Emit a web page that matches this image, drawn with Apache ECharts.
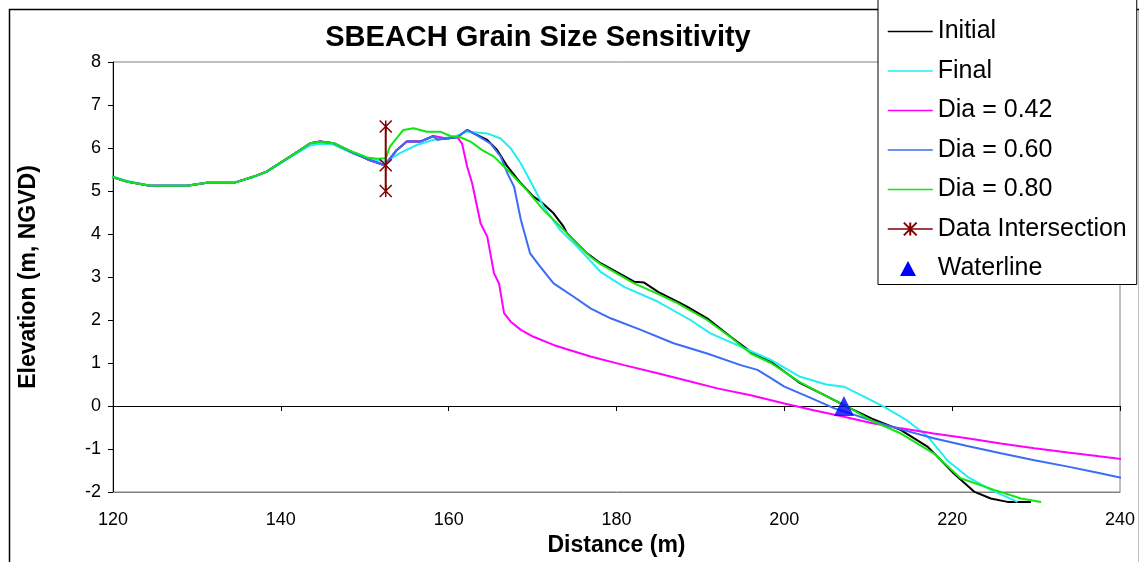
<!DOCTYPE html>
<html>
<head>
<meta charset="utf-8">
<script src="https://cdn.jsdelivr.net/npm/echarts@6/dist/echarts.min.js"></script>
<style>
  html, body { margin: 0; padding: 0; background: #fff; }
  #chart { width: 1139px; height: 562px; }
</style>
</head>
<body>
<div id="chart"></div>
<script>
// distance (m), elevation (m, NGVD)
const initial = [
  [118.9, 5.39], [121.6, 5.22], [124.4, 5.12], [128.8, 5.12], [131.2, 5.19], [134.4, 5.19],
  [136.7, 5.33], [138.3, 5.45], [141.1, 5.8], [143.5, 6.11], [144.7, 6.15], [146.3, 6.11],
  [148.7, 5.88], [150.3, 5.74], [152.4, 5.6], [153.8, 5.95], [155.0, 6.15], [156.6, 6.15],
  [158.2, 6.28], [158.6, 6.2], [159.8, 6.22], [161.0, 6.25], [162.2, 6.42], [163.0, 6.34],
  [164.6, 6.19], [165.8, 5.95], [167.0, 5.57], [168.6, 5.18], [170.1, 4.87], [171.0, 4.75],
  [172.5, 4.48], [173.7, 4.17], [174.1, 4.02], [175.3, 3.78], [176.5, 3.55], [178.1, 3.32],
  [180.0, 3.12], [182.1, 2.89], [183.3, 2.87], [185.0, 2.65], [187.2, 2.43], [188.4, 2.31],
  [190.8, 2.04], [193.6, 1.61], [196.0, 1.26], [198.4, 1.03], [201.9, 0.53], [204.5, 0.28],
  [207.8, -0.05], [210.5, -0.3], [213.9, -0.56], [217.1, -0.95], [220.2, -1.57], [222.6, -1.99],
  [224.6, -2.15], [226.6, -2.23], [229.4, -2.23]
];
const final = [
  [118.9, 5.4], [121.6, 5.24], [124.4, 5.13], [128.8, 5.13], [131.2, 5.2], [134.4, 5.2],
  [136.7, 5.32], [138.3, 5.44], [141.1, 5.78], [143.5, 6.06], [144.7, 6.1], [146.3, 6.08],
  [148.7, 5.86], [150.3, 5.76], [152.4, 5.68], [154.2, 5.88], [156.2, 6.07], [158.2, 6.19],
  [160.6, 6.26], [162.2, 6.38], [164.6, 6.34], [166.2, 6.22], [167.4, 5.99], [168.6, 5.64],
  [170.1, 5.1], [171.3, 4.64], [173.3, 4.09], [175.3, 3.71], [178.1, 3.12], [180.9, 2.77],
  [184.9, 2.43], [188.8, 2.0], [191.2, 1.69], [194.8, 1.38], [198.4, 1.07], [201.9, 0.68],
  [205.0, 0.5], [207.1, 0.45], [209.5, 0.22], [211.9, -0.02], [214.5, -0.32], [217.1, -0.71],
  [219.4, -1.26], [221.8, -1.64], [224.6, -1.95], [227.8, -2.23]
];
const dia042 = [
  [118.9, 5.39], [121.6, 5.22], [124.4, 5.12], [128.8, 5.12], [131.2, 5.19], [134.4, 5.19],
  [136.7, 5.33], [138.3, 5.45], [141.1, 5.8], [143.5, 6.11], [144.7, 6.15], [146.3, 6.11],
  [148.7, 5.88], [150.3, 5.74], [152.4, 5.6], [153.8, 5.95], [155.0, 6.15], [156.6, 6.15],
  [158.2, 6.28], [159.8, 6.22], [161.0, 6.26], [161.6, 6.1], [162.2, 5.57], [162.8, 5.18],
  [163.8, 4.25], [164.6, 3.94], [165.4, 3.09], [166.0, 2.85], [166.6, 2.16], [167.4, 1.96],
  [168.6, 1.77], [170.1, 1.61], [172.5, 1.42], [174.1, 1.32], [176.9, 1.15], [180.9, 0.95],
  [184.9, 0.76], [188.8, 0.57], [192.0, 0.41], [196.0, 0.25], [200.0, 0.06], [203.5, -0.1],
  [207.1, -0.25], [210.5, -0.4], [213.9, -0.52], [217.8, -0.64], [221.8, -0.75], [225.8, -0.87],
  [229.8, -0.98], [233.8, -1.08], [237.5, -1.17], [241.3, -1.26]
];
const dia060 = [
  [118.9, 5.39], [121.6, 5.22], [124.4, 5.12], [128.8, 5.12], [131.2, 5.19], [134.4, 5.19],
  [136.7, 5.33], [138.3, 5.45], [141.1, 5.8], [143.5, 6.11], [144.7, 6.15], [146.3, 6.11],
  [148.7, 5.88], [150.3, 5.74], [152.4, 5.6], [153.8, 5.95], [155.0, 6.15], [156.6, 6.15],
  [158.2, 6.28], [158.6, 6.2], [159.8, 6.22], [161.0, 6.25], [162.2, 6.42], [163.0, 6.34],
  [165.0, 6.1], [166.2, 5.8], [167.0, 5.41], [167.8, 5.1], [168.6, 4.33], [169.7, 3.55],
  [170.9, 3.24], [172.5, 2.85], [174.9, 2.54], [176.9, 2.27], [179.3, 2.04], [182.9, 1.77],
  [186.8, 1.46], [190.8, 1.22], [194.8, 0.95], [196.8, 0.84], [198.4, 0.65], [200.0, 0.45],
  [203.0, 0.2], [205.9, -0.05], [208.3, -0.2], [210.7, -0.36], [214.0, -0.55], [217.8, -0.75],
  [221.8, -0.93], [225.8, -1.1], [229.8, -1.26], [233.8, -1.41], [237.5, -1.56], [241.3, -1.72]
];
const dia080 = [
  [118.9, 5.39], [121.6, 5.22], [124.4, 5.12], [128.8, 5.12], [131.2, 5.19], [134.4, 5.19],
  [136.7, 5.33], [138.3, 5.45], [141.1, 5.8], [143.5, 6.11], [144.7, 6.14], [146.3, 6.11],
  [148.7, 5.9], [150.3, 5.78], [151.5, 5.75], [152.5, 5.76], [153.0, 6.03], [154.6, 6.42],
  [155.8, 6.46], [157.4, 6.38], [159.0, 6.38], [160.2, 6.28], [161.4, 6.25], [162.6, 6.15],
  [164.0, 5.95], [165.4, 5.8], [167.0, 5.49], [169.3, 5.02], [171.3, 4.56], [174.1, 4.02],
  [176.9, 3.47], [178.1, 3.3], [182.1, 2.85], [185.0, 2.6], [187.2, 2.4], [190.8, 2.0],
  [193.6, 1.6], [196.0, 1.22], [198.4, 1.0], [201.9, 0.55], [204.5, 0.28], [207.8, -0.05],
  [210.5, -0.35], [213.9, -0.64], [217.8, -1.1], [221.0, -1.68], [225.0, -1.95], [228.2, -2.15],
  [230.6, -2.23]
];
const dataIntersection = [[152.5, 5.0], [152.5, 5.6], [152.5, 6.5]];
const waterline = [[207.1, 0]];

const legendNames = ["Initial", "Final", "Dia = 0.42", "Dia = 0.60", "Dia = 0.80", "Data Intersection", "Waterline"];

const xTicks = { min: 120, max: 240, interval: 20 };
const yTicks = { min: -2, max: 8, interval: 1 };

const font = "'Liberation Sans', Arial, sans-serif";
const chart = echarts.init(document.getElementById("chart"));

function curve(name, data, color, width) {
  return {
    name,
    type: "line",
    data,
    symbol: "none",
    clip: false,
    color,
    lineStyle: { color, width },
    emphasis: { disabled: true },
  };
}

// plain line entries: hide the default circle drawn in the legend icon
const legendData = legendNames.map((name) => {
  if (name === "Data Intersection") return { name, lineStyle: { width: 1.5 } };
  return { name, lineStyle: { width: 1.5 }, itemStyle: { opacity: 0 } };
});

chart.setOption({
  animation: false,
  title: {
    text: "SBEACH Grain Size Sensitivity",
    left: 533,
    top: 18,
    textAlign: "center",
    textStyle: { fontFamily: font, fontSize: 29, fontWeight: "bold", color: "#000" },
  },
  grid: {
    left: 113,
    right: 19,
    top: 62,
    bottom: 70,
    show: true,
    borderColor: "#808080",
    borderWidth: 1,
  },
  legend: {
    orient: "vertical",
    left: 878,
    top: -1,
    padding: [20, 10, 3.5, 9],
    itemGap: 14.5,
    itemWidth: 45,
    itemHeight: 16,
    backgroundColor: "#fff",
    borderColor: "#000",
    borderWidth: 1,
    textStyle: { fontFamily: font, fontSize: 25, color: "#000" },
    data: legendData,
  },
  xAxis: [
    {
      type: "value",
      ...xTicks,
      name: "Distance (m)",
      nameLocation: "middle",
      nameGap: 36,
      nameTextStyle: { fontFamily: font, fontSize: 23, fontWeight: "bold", color: "#000" },
      axisLine: { onZero: false, lineStyle: { color: "#808080" } },
      axisTick: { show: false },
      axisLabel: { margin: 19, fontFamily: font, fontSize: 18, color: "#000" },
      splitLine: { show: false },
    },
    {
      type: "value",
      ...xTicks,
      position: "bottom",
      axisLine: { onZero: true, lineStyle: { color: "#000" } },
      axisTick: { show: true, length: 5, lineStyle: { color: "#000" } },
      axisLabel: { show: false },
      splitLine: { show: false },
    },
  ],
  yAxis: {
    type: "value",
    ...yTicks,
    name: "Elevation (m, NGVD)",
    nameLocation: "middle",
    nameGap: 73,
    nameTextStyle: { fontFamily: font, fontSize: 23, fontWeight: "bold", color: "#000" },
    axisLine: { show: true, onZero: false, lineStyle: { color: "#000" } },
    axisTick: { show: true, length: 5, lineStyle: { color: "#000" } },
    axisLabel: { margin: 12, fontFamily: font, fontSize: 18, color: "#000" },
    splitLine: { show: false },
  },
  graphic: [
    {
      type: "rect",
      left: 7,
      top: 7,
      shape: { width: 1130, height: 600 },
      style: { fill: "none", stroke: "#000", lineWidth: 1.5 },
      silent: true,
      z: -1,
    },
    {
      // small triangle key for the Waterline legend entry
      type: "polygon",
      shape: { points: [[908, 261], [900, 276], [916, 276]] },
      style: { fill: "#0000ff" },
      silent: true,
      z: 100,
    },
  ],
  series: [
    curve("Initial", initial, "#000000", 2),
    curve("Final", final, "#22eef2", 2),
    curve("Dia = 0.42", dia042, "#ff00ff", 2),
    curve("Dia = 0.60", dia060, "#3a6cf6", 2),
    curve("Dia = 0.80", dia080, "#11e611", 2),
    {
      name: "Data Intersection",
      type: "line",
      data: dataIntersection,
      clip: false,
      color: "#800000",
      symbol: "path://M0,0L10,10M10,0L0,10M5,0L5,10",
      symbolSize: 12,
      itemStyle: { color: "#800000", borderColor: "#800000", borderWidth: 1.5 },
      lineStyle: { color: "#800000", width: 2 },
      emphasis: { disabled: true },
      z: 3,
    },
    {
      name: "Waterline",
      type: "scatter",
      data: waterline,
      clip: false,
      symbol: "triangle",
      symbolSize: 20,
      itemStyle: { color: "#0000ff" },
      emphasis: { disabled: true },
      z: 4,
    },
  ],
});
</script>
</body>
</html>
